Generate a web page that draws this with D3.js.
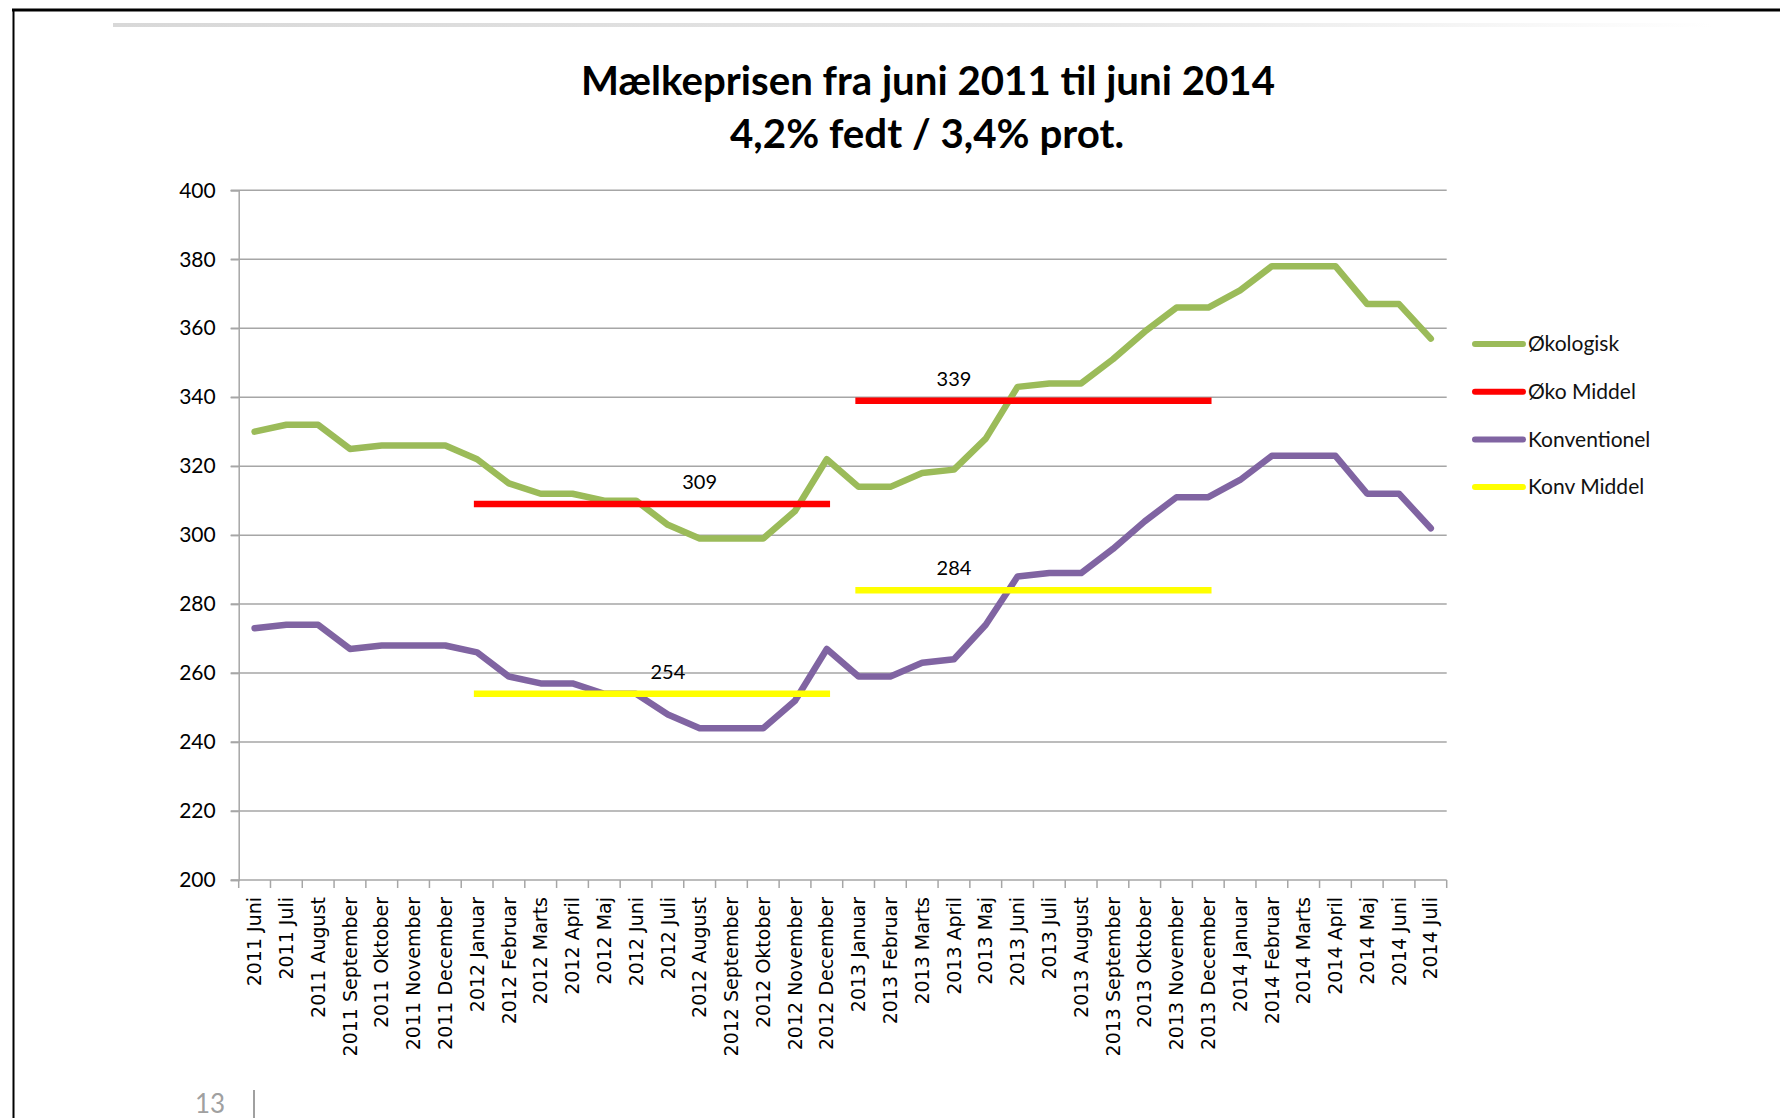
<!DOCTYPE html>
<html>
<head>
<meta charset="utf-8">
<script src="https://cdn.jsdelivr.net/npm/d3@7"></script>
<style>
  body { margin: 0; background: #fff; }
  svg { display: block; }
</style>
</head>
<body>
<script>
// month categories on the x axis
var months = [
  "2011 Juni", "2011 Juli", "2011 August", "2011 September", "2011 Oktober", "2011 November", "2011 December",
  "2012 Januar", "2012 Februar", "2012 Marts", "2012 April", "2012 Maj", "2012 Juni", "2012 Juli",
  "2012 August", "2012 September", "2012 Oktober", "2012 November", "2012 December",
  "2013 Januar", "2013 Februar", "2013 Marts", "2013 April", "2013 Maj", "2013 Juni", "2013 Juli",
  "2013 August", "2013 September", "2013 Oktober", "2013 November", "2013 December",
  "2014 Januar", "2014 Februar", "2014 Marts", "2014 April", "2014 Maj", "2014 Juni", "2014 Juli"
];

// milk price, organic
var okologisk = [330, 332, 332, 325, 326, 326, 326,
  322, 315, 312, 312, 310, 310, 303, 299, 299, 299, 307, 322,
  314, 314, 318, 319, 328, 343, 344, 344, 351, 359, 366, 366,
  371, 378, 378, 378, 367, 367, 357];

// milk price, conventional
var konventionel = [273, 274, 274, 267, 268, 268, 268,
  266, 259, 257, 257, 254, 254, 248, 244, 244, 244, 252, 267,
  259, 259, 263, 264, 274, 288, 289, 289, 296, 304, 311, 311,
  316, 323, 323, 323, 312, 312, 302];

// yearly averages: first month, last month, value, month the label sits over
var okoMiddel = [
  {from: "2012 Januar", to: "2012 December", value: 309, labelAt: "2012 August"},
  {from: "2013 Januar", to: "2013 December", value: 339, labelAt: "2013 April"}
];
var konvMiddel = [
  {from: "2012 Januar", to: "2012 December", value: 254, labelAt: "2012 Juli"},
  {from: "2013 Januar", to: "2013 December", value: 284, labelAt: "2013 April"}
];

var yTicks = [200, 220, 240, 260, 280, 300, 320, 340, 360, 380, 400];

var legendItems = ["Økologisk", "Øko Middel", "Konventionel", "Konv Middel"];
var colors = ["#9bbb59", "#ff0000", "#8064a2", "#ffff00"];

var width = 1780, height = 1118;
var plotLeft = 238.7, plotRight = 1446.7, plotTop = 190.3, plotBottom = 880;

var svg = d3.select("body").append("svg")
  .attr("width", width)
  .attr("height", height);

// slide frame
svg.append("line")
  .attr("x1", 12).attr("x2", width).attr("y1", 10).attr("y2", 10)
  .attr("stroke", "#000").attr("stroke-width", 3);
svg.append("line")
  .attr("x1", 13.5).attr("x2", 13.5).attr("y1", 9).attr("y2", height)
  .attr("stroke", "#000").attr("stroke-width", 2);

var grad = svg.append("defs").append("linearGradient").attr("id", "fade");
grad.append("stop").attr("offset", "0%").attr("stop-color", "#d8d8d8");
grad.append("stop").attr("offset", "60%").attr("stop-color", "#e6e6e6");
grad.append("stop").attr("offset", "100%").attr("stop-color", "#fff");
svg.append("rect")
  .attr("x", 113).attr("y", 23).attr("width", 1600).attr("height", 4)
  .attr("fill", "url(#fade)");

// page number at the bottom edge
svg.append("text")
  .attr("x", 195).attr("y", 1113)
  .attr("font-family", "Lato, sans-serif").attr("font-size", 26)
  .attr("fill", "#a0a0a0").text("13");
svg.append("line")
  .attr("x1", 254).attr("x2", 254).attr("y1", 1090).attr("y2", height)
  .attr("stroke", "#a0a0a0").attr("stroke-width", 2);

// title
var title = svg.append("g")
  .attr("font-family", "Lato, sans-serif")
  .attr("font-weight", "bold")
  .attr("font-size", 40)
  .attr("fill", "#000")
  .attr("text-anchor", "middle");
title.append("text").attr("x", 928).attr("y", 95)
  .attr("textLength", 694).attr("lengthAdjust", "spacingAndGlyphs")
  .text("Mælkeprisen fra juni 2011 til juni 2014");
title.append("text").attr("x", 927).attr("y", 148)
  .attr("textLength", 394).attr("lengthAdjust", "spacingAndGlyphs")
  .text("4,2% fedt / 3,4% prot.");

// scales
var x = d3.scaleBand().domain(months).range([plotLeft, plotRight]).padding(0);
var cx = function(m) { return x(m) + x.bandwidth() / 2; };
var y = d3.scaleLinear().domain([200, 400]).range([plotBottom, plotTop]);

// gridlines
svg.append("g").selectAll("line")
  .data(yTicks.filter(function(d) { return d > 200; }))
  .enter().append("line")
  .attr("x1", plotLeft - 8).attr("x2", plotRight)
  .attr("y1", function(d) { return y(d); })
  .attr("y2", function(d) { return y(d); })
  .attr("stroke", "#a6a6a6").attr("stroke-width", 1.5);

// y axis
var yAxis = svg.append("g")
  .attr("transform", "translate(" + plotLeft + ",0)")
  .call(d3.axisLeft(y).tickValues(yTicks).tickSize(8).tickPadding(15));
yAxis.select(".domain").attr("stroke", "#a6a6a6").attr("stroke-width", 1.5);
yAxis.selectAll(".tick line").attr("stroke", "#a6a6a6").attr("stroke-width", 1.5);
yAxis.selectAll(".tick text")
  .attr("font-family", "Lato, sans-serif").attr("font-size", 21).attr("fill", "#000");

// x axis: ticks between months, labels rotated
var xAxis = svg.append("g").attr("transform", "translate(0," + plotBottom + ")");
xAxis.append("line")
  .attr("x1", plotLeft - 8).attr("x2", plotRight)
  .attr("stroke", "#a6a6a6").attr("stroke-width", 1.5);
xAxis.selectAll(".tk")
  .data(months.map(function(m) { return x(m); }).concat([plotRight]))
  .enter().append("line")
  .attr("class", "tk")
  .attr("x1", function(d) { return d; }).attr("x2", function(d) { return d; })
  .attr("y1", 0).attr("y2", 8)
  .attr("stroke", "#a6a6a6").attr("stroke-width", 1.5);
xAxis.selectAll(".lbl")
  .data(months)
  .enter().append("text")
  .attr("class", "lbl")
  .attr("transform", function(d) { return "translate(" + cx(d) + ",17) rotate(-90)"; })
  .attr("text-anchor", "end")
  .attr("dy", "0.35em")
  .attr("font-family", "'DejaVu Sans', sans-serif")
  .attr("font-size", 19)
  .attr("fill", "#000")
  .text(function(d) { return d; });

// series
var line = d3.line()
  .x(function(d, i) { return cx(months[i]); })
  .y(function(d) { return y(d); });

function drawMiddel(data, color) {
  var g = svg.append("g");
  g.selectAll("line")
    .data(data).enter().append("line")
    .attr("x1", function(d) { return cx(d.from); })
    .attr("x2", function(d) { return cx(d.to); })
    .attr("y1", function(d) { return y(d.value); })
    .attr("y2", function(d) { return y(d.value); })
    .attr("stroke", color).attr("stroke-width", 6.5)
    .attr("stroke-linecap", "square");
  g.selectAll("text")
    .data(data).enter().append("text")
    .attr("x", function(d) { return cx(d.labelAt); })
    .attr("y", function(d) { return y(d.value) - 15; })
    .attr("text-anchor", "middle")
    .attr("font-family", "Lato, sans-serif").attr("font-size", 20)
    .attr("fill", "#000")
    .text(function(d) { return d.value; });
}

svg.append("path").datum(okologisk)
  .attr("d", line).attr("fill", "none")
  .attr("stroke", colors[0]).attr("stroke-width", 6.5)
  .attr("stroke-linejoin", "round").attr("stroke-linecap", "round");
drawMiddel(okoMiddel, colors[1]);
svg.append("path").datum(konventionel)
  .attr("d", line).attr("fill", "none")
  .attr("stroke", colors[2]).attr("stroke-width", 6.5)
  .attr("stroke-linejoin", "round").attr("stroke-linecap", "round");
drawMiddel(konvMiddel, colors[3]);

// legend
var legend = svg.append("g").selectAll("g")
  .data(legendItems).enter().append("g")
  .attr("transform", function(d, i) { return "translate(1473," + (344 + i * 47.7) + ")"; });
legend.append("line")
  .attr("x1", 2).attr("x2", 50)
  .attr("stroke", function(d, i) { return colors[i]; })
  .attr("stroke-width", 6).attr("stroke-linecap", "round");
legend.append("text")
  .attr("x", 55).attr("dy", "0.35em")
  .attr("font-family", "Lato, sans-serif").attr("font-size", 21)
  .attr("fill", "#111")
  .text(function(d) { return d; });
</script>
</body>
</html>
